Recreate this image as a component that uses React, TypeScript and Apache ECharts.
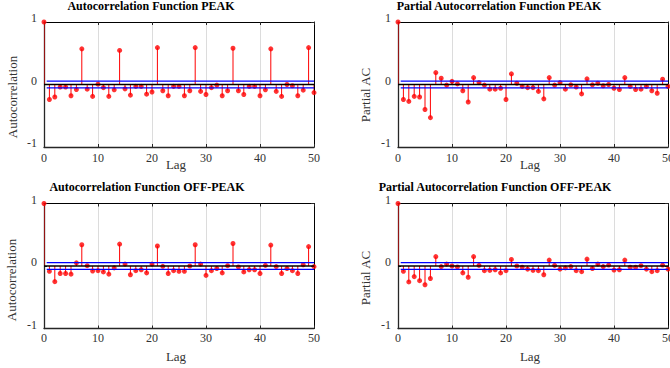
import React, { useEffect, useRef } from "react";
import * as echarts from "echarts";

const lags: number[] = Array.from({ length: 51 }, (_, i) => i);

const acfPeak = [
  1, -0.24, -0.2, -0.04, -0.04, -0.18, -0.08, 0.57, -0.075, -0.19,
  0.005, -0.05, -0.19, -0.085, 0.545, -0.07, -0.17, -0.03, -0.03, -0.155,
  -0.12, 0.59, -0.1, -0.18, -0.03, -0.03, -0.18, -0.1, 0.59, -0.11,
  -0.16, -0.05, -0.01, -0.18, -0.1, 0.58, -0.1, -0.16, -0.03, -0.03,
  -0.18, -0.085, 0.57, -0.11, -0.19, 0.0, -0.02, -0.18, -0.09, 0.59,
  -0.13,
];

const pacfPeak = [
  1, -0.24, -0.27, -0.19, -0.2, -0.4, -0.53, 0.19, 0.1, -0.01,
  0.05, 0.01, -0.1, -0.28, 0.11, 0.03, -0.01, -0.075, -0.075, -0.06,
  -0.24, 0.17, 0.02, -0.03, -0.05, -0.05, -0.11, -0.23, 0.11, -0.01,
  0.03, -0.075, -0.005, -0.04, -0.15, 0.09, -0.005, 0.02, -0.02, 0.0,
  -0.06, -0.08, 0.11, -0.03, -0.08, -0.075, -0.03, -0.1, -0.14, 0.085,
  -0.03,
];

const acfOffPeak = [
  1, -0.085, -0.25, -0.12, -0.12, -0.13, 0.05, 0.34, 0.005, -0.08,
  -0.075, -0.095, -0.13, -0.03, 0.35, 0.03, -0.14, -0.075, -0.06, -0.11,
  0.03, 0.32, -0.005, -0.12, -0.075, -0.085, -0.085, 0.0, 0.34, 0.03,
  -0.15, -0.075, -0.04, -0.11, 0.005, 0.36, -0.015, -0.095, -0.06, -0.06,
  -0.12, 0.01, 0.335, -0.01, -0.12, -0.04, -0.075, -0.12, 0.02, 0.31,
  -0.01,
];

const pacfOffPeak = [
  1, -0.085, -0.255, -0.17, -0.235, -0.3, -0.2, 0.15, -0.01, 0.03,
  0.0, -0.015, -0.11, -0.18, 0.15, 0.01, -0.075, -0.07, -0.06, -0.11,
  -0.075, 0.105, 0.0, -0.02, -0.05, -0.07, -0.075, -0.14, 0.095, 0.01,
  -0.05, -0.03, -0.01, -0.075, -0.09, 0.11, -0.04, 0.03, -0.01, 0.015,
  -0.065, -0.06, 0.095, -0.02, -0.02, 0.005, -0.05, -0.09, -0.075, 0.015,
  -0.05,
];

const confBound = 0.055;
const boundStartLag = 0.5;
const xMin = 0;
const xMax = 50;
const xInterval = 10;
const yMin = -1;
const yMax = 1;
const yInterval = 1;

const panelTitles = [
  "Autocorrelation Function PEAK",
  "Partial Autocorrelation Function PEAK",
  "Autocorrelation Function OFF-PEAK",
  "Partial Autocorrelation Function OFF-PEAK",
];
const panelYNames = ["Autocorrelation", "Partial AC", "Autocorrelation", "Partial AC"];
const panelValues = [acfPeak, pacfPeak, acfOffPeak, pacfOffPeak];
const xName = "Lag";

// layout (pixels)
const layouts = [
  { left: 44, top: 22, titleX: 151, titleY: 0, yLabX: 12, yLabY: 97, lagX: 176, lagY: 164, labMargin: 5 },
  { left: 398, top: 22, titleX: 499, titleY: 0, yLabX: 365, yLabY: 95, lagX: 530, lagY: 164, labMargin: 5 },
  { left: 44, top: 203.5, titleX: 147, titleY: 181, yLabX: 11, yLabY: 280, lagX: 176, lagY: 356, labMargin: 3 },
  { left: 398, top: 203.5, titleX: 495, titleY: 181, yLabX: 365.5, yLabY: 278, lagX: 530, lagY: 356, labMargin: 3 },
];
const plotW = 270;
const plotH = 125;

const FONT = "'Liberation Serif', 'DejaVu Serif', serif";
const AX = "#262626";

function buildOption() {
  const grid: any[] = [];
  const xAxis: any[] = [];
  const yAxis: any[] = [];
  const series: any[] = [];
  const graphic: any[] = [];
  const title: any[] = [];

  layouts.forEach((L, i) => {
    grid.push({
      left: L.left,
      top: L.top,
      width: plotW,
      height: plotH,
      show: false,
      containLabel: false,
      outerBoundsMode: "none",
    });
    xAxis.push({
      type: "value",
      gridIndex: i,
      position: "bottom",
      min: xMin,
      max: xMax,
      interval: xInterval,
      axisLine: { show: true, onZero: false, lineStyle: { color: AX, width: 1.3 } },
      axisTick: { show: true, inside: true, length: 3, lineStyle: { color: AX } },
      axisLabel: { margin: L.labMargin, fontSize: 12, fontFamily: FONT, color: "#333" },
      splitLine: { show: true, lineStyle: { color: "#dcdcdc", width: 1 } },
    });
    xAxis.push({
      type: "value",
      gridIndex: i,
      position: "top",
      min: xMin,
      max: xMax,
      interval: xInterval,
      axisLine: { show: true, onZero: false, lineStyle: { color: "#000", width: 1 } },
      axisTick: { show: true, inside: true, length: 3, lineStyle: { color: AX } },
      axisLabel: { show: false },
      splitLine: { show: false },
    });
    yAxis.push({
      type: "value",
      gridIndex: i,
      position: "left",
      min: yMin,
      max: yMax,
      interval: yInterval,
      axisLine: { show: true, onZero: false, lineStyle: { color: AX, width: 1.3 } },
      axisTick: { show: true, inside: true, length: 3, lineStyle: { color: AX } },
      axisLabel: {
        margin: 7,
        fontSize: 12,
        fontFamily: FONT,
        color: "#333",
        verticalAlign: "bottom",
        lineHeight: 8,
      },
      splitLine: { show: false },
    });
    yAxis.push({
      type: "value",
      gridIndex: i,
      position: "right",
      min: yMin,
      max: yMax,
      interval: yInterval,
      axisLine: { show: true, onZero: false, lineStyle: { color: "#000", width: 1 } },
      axisTick: { show: true, inside: true, length: 3, lineStyle: { color: AX } },
      axisLabel: { show: false },
      splitLine: { show: false },
    });

    const vals = panelValues[i];
    const pts = lags.map((l, j) => [l, vals[j]]);

    series.push({
      type: "custom",
      xAxisIndex: 2 * i,
      yAxisIndex: 2 * i,
      clip: true,
      renderItem: (_p: any, api: any) => {
        const x = api.value(0);
        const p0 = api.coord([x, 0]);
        const p1 = api.coord([x, api.value(1)]);
        return {
          type: "line",
          shape: { x1: p0[0], y1: p0[1], x2: p1[0], y2: p1[1] },
          style: { stroke: "#ff0000", lineWidth: 1 },
        };
      },
      data: pts,
    });
    series.push({
      type: "line",
      xAxisIndex: 2 * i,
      yAxisIndex: 2 * i,
      data: [
        [xMin, 0],
        [xMax, 0],
      ],
      symbol: "none",
      lineStyle: { color: "#000", width: 1.3 },
      silent: true,
    });
    series.push({
      type: "scatter",
      xAxisIndex: 2 * i,
      yAxisIndex: 2 * i,
      data: pts,
      symbol: "circle",
      symbolSize: 5,
      itemStyle: { color: "#ff0000" },
    });
    [confBound, -confBound].forEach((b) => {
      series.push({
        type: "line",
        xAxisIndex: 2 * i,
        yAxisIndex: 2 * i,
        data: [
          [boundStartLag, b],
          [xMax, b],
        ],
        symbol: "none",
        lineStyle: { color: "#0000ff", width: 1.3 },
        silent: true,
      });
    });

    title.push({
      text: panelTitles[i],
      left: L.titleX,
      top: L.titleY,
      textAlign: "center",
      padding: 0,
      textStyle: { fontFamily: FONT, fontWeight: "bold", fontSize: 12, color: "#000" },
    });

    graphic.push({
      type: "text",
      x: L.yLabX,
      y: L.yLabY,
      rotation: Math.PI / 2,
      style: {
        text: panelYNames[i],
        font: `13px ${FONT}`,
        fill: "#333",
        align: "center",
        verticalAlign: "middle",
      },
    });
    graphic.push({
      type: "text",
      x: L.lagX,
      y: L.lagY,
      style: {
        text: xName,
        font: `13px ${FONT}`,
        fill: "#333",
        align: "center",
        verticalAlign: "middle",
      },
    });
  });

  return {
    animation: false,
    backgroundColor: "#ffffff",
    title,
    grid,
    xAxis,
    yAxis,
    series,
    graphic,
  };
}

export default function App() {
  const ref = useRef<HTMLDivElement>(null);
  useEffect(() => {
    if (!ref.current) return;
    const chart = echarts.init(ref.current, undefined, { renderer: "svg" });
    chart.setOption(buildOption() as any);
    return () => chart.dispose();
  }, []);
  return (
    <div
      ref={ref}
      style={{ position: "absolute", left: 0, top: 0, width: 670, height: 368, background: "#fff" }}
    />
  );
}
